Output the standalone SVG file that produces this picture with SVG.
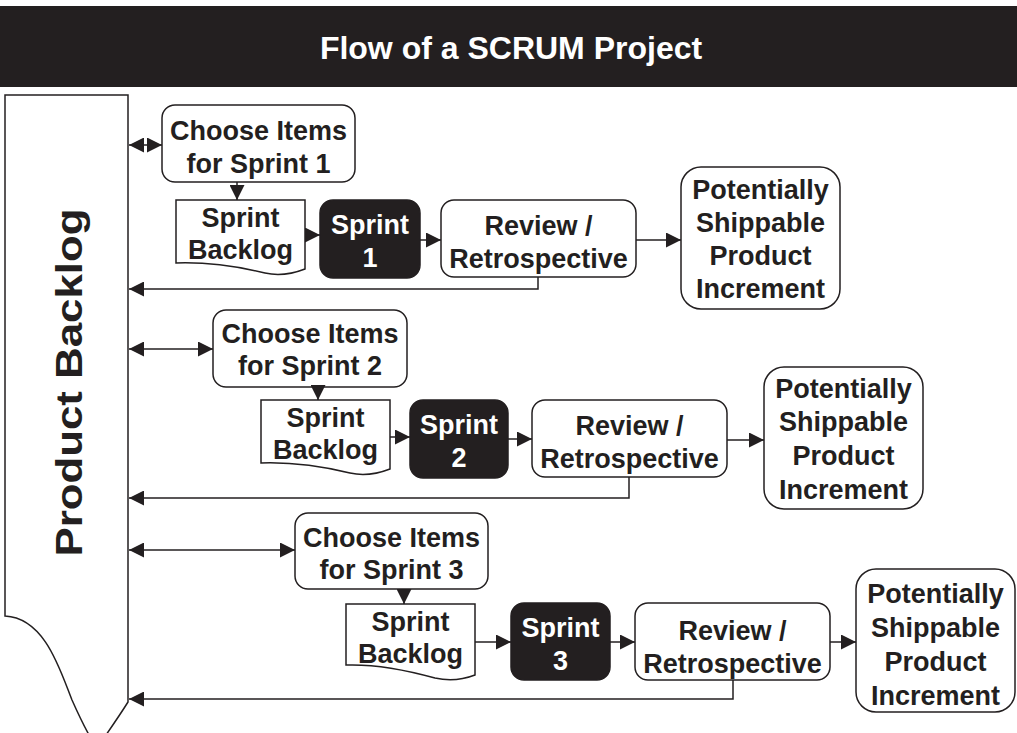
<svg xmlns="http://www.w3.org/2000/svg" width="1017" height="733" viewBox="0 0 1017 733">
  <style>
    .box { fill: #ffffff; stroke: #231f20; stroke-width: 1.5; }
    .dark { fill: #231f20; stroke: #231f20; stroke-width: 1.5; }
    .lbl { font-family: "Liberation Sans", Arial, sans-serif; font-weight: bold; font-size: 27px; fill: #231f20; text-anchor: middle; }
    .inv { fill: #ffffff; }
    .conn { fill: none; stroke: #231f20; stroke-width: 1.5; }
  </style>
  <defs>
    <marker id="ah" markerUnits="userSpaceOnUse" markerWidth="15" markerHeight="15" viewBox="0 0 15 15" refX="15" refY="7.5" orient="auto-start-reverse">
      <path d="M0,0 L15,7.5 L0,15 Z" fill="#231f20"/>
    </marker>
  </defs>

  <rect width="1017" height="733" fill="#ffffff"/>

  <!-- title bar -->
  <g id="title">
    <rect x="0" y="6" width="1017" height="81" fill="#231f20"/>
    <text x="511" y="59" class="lbl inv" style="font-size:32px">Flow of a SCRUM Project</text>
  </g>

  <!-- product backlog (document shape on its side) -->
  <g id="product-backlog">
    <path class="box" d="M5,95 H128 V702 C118,718 108,732 97,748 C88,735 80,718 72,700 C60,670 45,618 5,616 Z"/>
    <text class="lbl" style="font-size:37px" transform="translate(82,382.5) rotate(-90)" x="0" y="0" textLength="348" lengthAdjust="spacingAndGlyphs">Product Backlog</text>
  </g>

  <!-- sprint 1 row -->
  <g id="choose-1">
    <rect class="box" x="162" y="105" width="193" height="77" rx="13"/>
    <text class="lbl" x="258.5" y="140">Choose Items</text>
    <text class="lbl" x="258.5" y="173">for Sprint 1</text>
  </g>
  <g id="sprint-backlog-1">
    <path class="box" d="M176,200 H305 V269 C292,274 278,276 265,273 C240,267 205,262 176,263 Z"/>
    <text class="lbl" x="240.5" y="227">Sprint</text>
    <text class="lbl" x="240.5" y="259">Backlog</text>
  </g>
  <g id="sprint-1">
    <rect class="dark" x="320" y="200" width="100" height="78" rx="13"/>
    <text class="lbl inv" x="370" y="234">Sprint</text>
    <text class="lbl inv" x="370" y="267">1</text>
  </g>
  <g id="review-1">
    <rect class="box" x="441" y="200" width="195" height="77" rx="13"/>
    <text class="lbl" x="538.5" y="235">Review /</text>
    <text class="lbl" x="538.5" y="268">Retrospective</text>
  </g>
  <g id="increment-1">
    <rect class="box" x="681" y="167" width="159" height="142" rx="20"/>
    <text class="lbl" x="760.5" y="199">Potentially</text>
    <text class="lbl" x="760.5" y="232">Shippable</text>
    <text class="lbl" x="760.5" y="265">Product</text>
    <text class="lbl" x="760.5" y="298">Increment</text>
  </g>

  <!-- sprint 2 row -->
  <g id="choose-2">
    <rect class="box" x="213" y="310" width="194" height="77" rx="13"/>
    <text class="lbl" x="310" y="343">Choose Items</text>
    <text class="lbl" x="310" y="375">for Sprint 2</text>
  </g>
  <g id="sprint-backlog-2">
    <path class="box" d="M261,400 H390 V469 C377,474 363,476 350,473 C325,467 290,462 261,463 Z"/>
    <text class="lbl" x="325.5" y="427">Sprint</text>
    <text class="lbl" x="325.5" y="459">Backlog</text>
  </g>
  <g id="sprint-2">
    <rect class="dark" x="410" y="400" width="98" height="78" rx="13"/>
    <text class="lbl inv" x="459" y="434">Sprint</text>
    <text class="lbl inv" x="459" y="467">2</text>
  </g>
  <g id="review-2">
    <rect class="box" x="532" y="400" width="195" height="77" rx="13"/>
    <text class="lbl" x="629.5" y="435">Review /</text>
    <text class="lbl" x="629.5" y="468">Retrospective</text>
  </g>
  <g id="increment-2">
    <rect class="box" x="764" y="367" width="159" height="142" rx="20"/>
    <text class="lbl" x="843.5" y="398">Potentially</text>
    <text class="lbl" x="843.5" y="431">Shippable</text>
    <text class="lbl" x="843.5" y="465">Product</text>
    <text class="lbl" x="843.5" y="499">Increment</text>
  </g>

  <!-- sprint 3 row -->
  <g id="choose-3">
    <rect class="box" x="295" y="513" width="193" height="76" rx="13"/>
    <text class="lbl" x="391.5" y="547">Choose Items</text>
    <text class="lbl" x="391.5" y="579">for Sprint 3</text>
  </g>
  <g id="sprint-backlog-3">
    <path class="box" d="M346,604 H475 V675 C462,680 448,681 435,678 C410,671 375,664 346,665 Z"/>
    <text class="lbl" x="410.5" y="631">Sprint</text>
    <text class="lbl" x="410.5" y="663">Backlog</text>
  </g>
  <g id="sprint-3">
    <rect class="dark" x="511" y="603" width="99" height="77" rx="13"/>
    <text class="lbl inv" x="560.5" y="637">Sprint</text>
    <text class="lbl inv" x="560.5" y="670">3</text>
  </g>
  <g id="review-3">
    <rect class="box" x="635" y="603" width="195" height="77" rx="13"/>
    <text class="lbl" x="732.5" y="640">Review /</text>
    <text class="lbl" x="732.5" y="673">Retrospective</text>
  </g>
  <g id="increment-3">
    <rect class="box" x="856" y="569" width="159" height="143" rx="20"/>
    <text class="lbl" x="935.5" y="603">Potentially</text>
    <text class="lbl" x="935.5" y="637">Shippable</text>
    <text class="lbl" x="935.5" y="671">Product</text>
    <text class="lbl" x="935.5" y="705">Increment</text>
  </g>

  <!-- connectors -->
  <g id="connectors" class="conn">
    <!-- sprint 1 -->
    <line x1="129" y1="145" x2="162" y2="145" marker-start="url(#ah)" marker-end="url(#ah)"/>
    <line x1="237" y1="182" x2="237" y2="200" marker-end="url(#ah)"/>
    <line x1="305" y1="235" x2="320" y2="235" marker-end="url(#ah)"/>
    <line x1="420" y1="240" x2="441" y2="240" marker-end="url(#ah)"/>
    <line x1="636" y1="240" x2="681" y2="240" marker-end="url(#ah)"/>
    <polyline points="538,277 538,289 129,289" marker-end="url(#ah)"/>
    <!-- sprint 2 -->
    <line x1="129" y1="349" x2="213" y2="349" marker-start="url(#ah)" marker-end="url(#ah)"/>
    <line x1="318" y1="387" x2="318" y2="400" marker-end="url(#ah)"/>
    <line x1="390" y1="437" x2="410" y2="437" marker-end="url(#ah)"/>
    <line x1="508" y1="439" x2="532" y2="439" marker-end="url(#ah)"/>
    <line x1="727" y1="440" x2="764" y2="440" marker-end="url(#ah)"/>
    <polyline points="629,477 629,498 129,498" marker-end="url(#ah)"/>
    <!-- sprint 3 -->
    <line x1="129" y1="550" x2="295" y2="550" marker-start="url(#ah)" marker-end="url(#ah)"/>
    <line x1="404" y1="589" x2="404" y2="604" marker-end="url(#ah)"/>
    <line x1="475" y1="642" x2="511" y2="642" marker-end="url(#ah)"/>
    <line x1="610" y1="642" x2="635" y2="642" marker-end="url(#ah)"/>
    <line x1="830" y1="642" x2="856" y2="642" marker-end="url(#ah)"/>
    <polyline points="733,680 733,699 129,699" marker-end="url(#ah)"/>
  </g>
</svg>
